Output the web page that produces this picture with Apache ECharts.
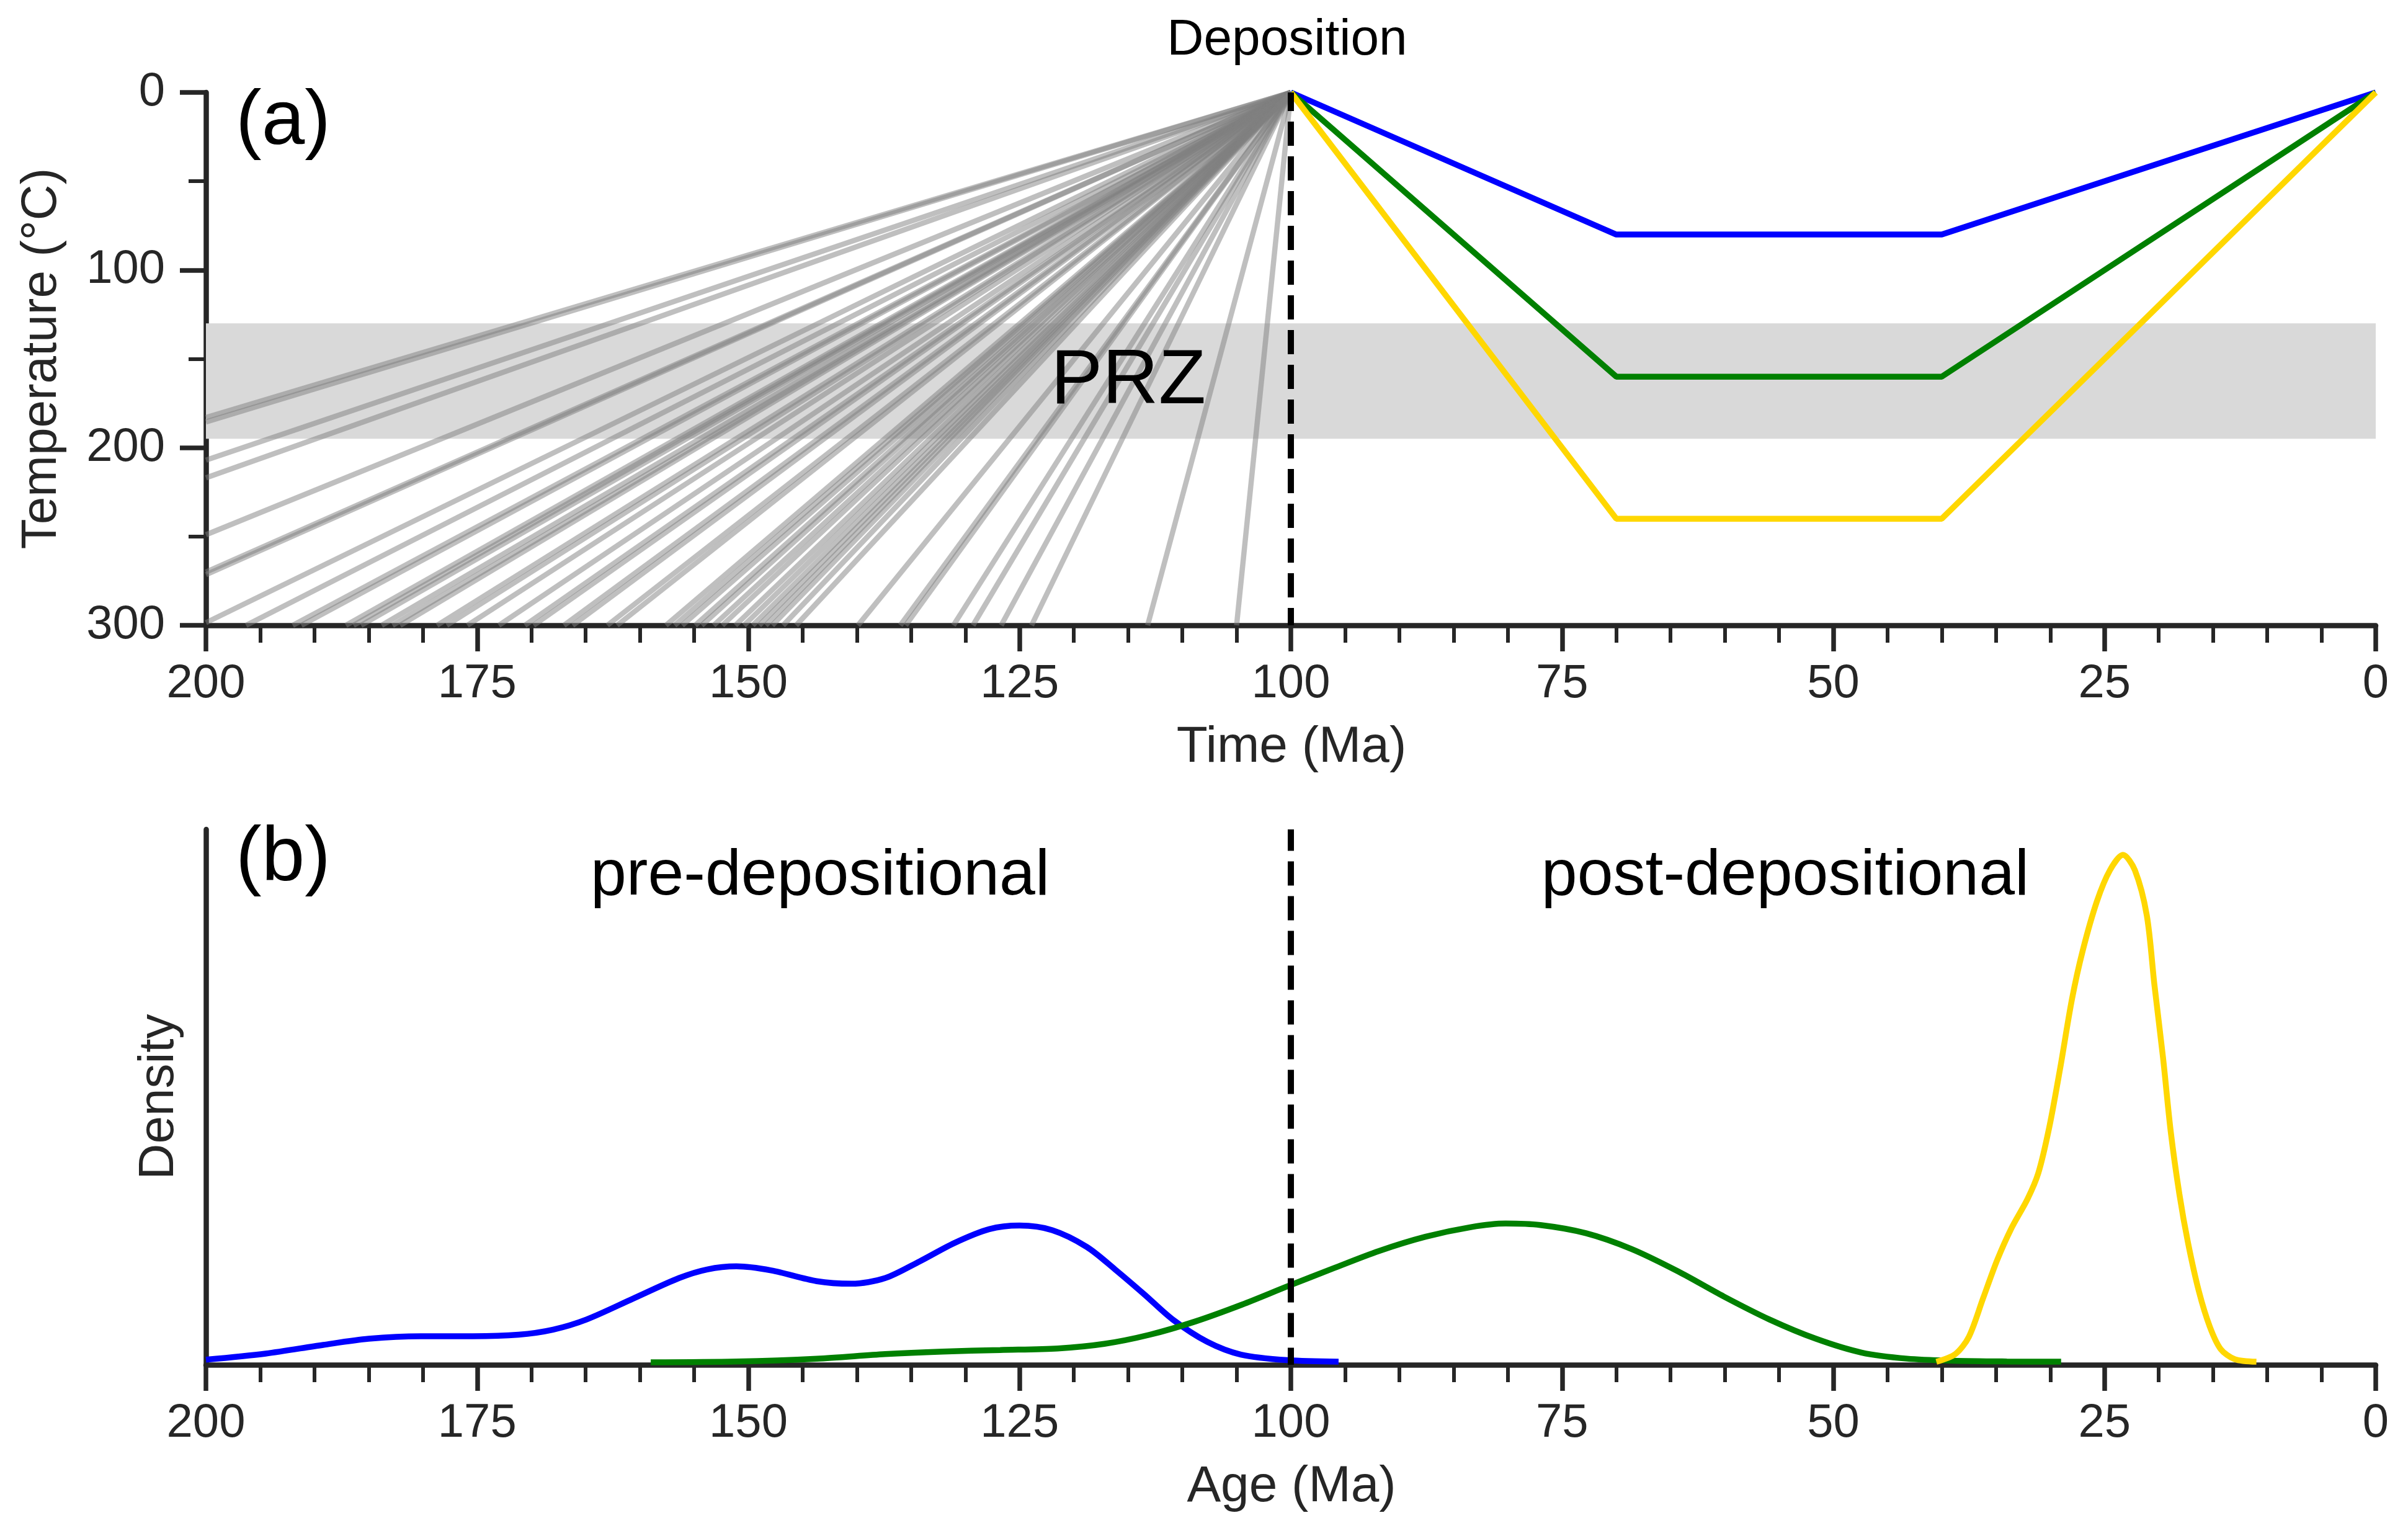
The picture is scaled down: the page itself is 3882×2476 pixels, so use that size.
<!DOCTYPE html>
<html><head><meta charset="utf-8">
<script src="https://cdn.jsdelivr.net/npm/echarts@6/dist/echarts.min.js"></script>
<style>html,body{margin:0;padding:0;background:#fff;}#c{width:3882px;height:2476px;}</style>
</head><body><div id="c"></div>
<script>
// ---------- Panel (a): thermal histories ----------
const depositionAge = 100;
const przRange = [130, 195];
// grey pre-depositional paths: temperature reached at the left edge (200 Ma)
const grayLeftTemps = [183, 185.5, 207, 217, 249, 270, 271.5, 298.5];
// grey pre-depositional paths: age reached at the bottom edge (300 °C)
const grayBottomAges = [196.3, 192.0, 191.2, 187.1, 186.4, 185.7, 183.8, 182.8, 182.1,
  178.7, 177.8, 175.9, 173.0, 170.6, 169.8, 167.0, 166.2, 163.0, 162.1, 157.6, 156.8,
  156.1, 154.9, 154.3, 153.2, 152.4, 151.2, 150.4, 149.6, 149.0, 148.4, 147.8, 146.8,
  145.6, 139.9, 136.0, 135.5, 131.1, 129.3, 126.7, 123.9, 113.2, 105.0];
const pathAges = [100, 70, 40, 0];
const blueTemps = [0, 80, 80, 0];
const greenTemps = [0, 160, 160, 0];
const yellowTemps = [0, 240, 240, 0];

// ---------- Panel (b): age densities ----------
const blueAges = [200, 194.5, 189.2, 185.0, 180.2, 175.4, 171.2, 168.0, 164.9, 160.6, 156.4, 153.8,
  151.1, 147.9, 143.7, 140.5, 137.4, 134.2, 131.0, 127.8, 125.0, 122.0, 118.8, 116.2, 113.5,
  110.9, 107.7, 104.6, 100.3, 95.6];
const blueDens = [0.010, 0.022, 0.039, 0.051, 0.056, 0.056, 0.059, 0.069, 0.089, 0.130, 0.170, 0.187,
  0.193, 0.185, 0.164, 0.159, 0.170, 0.203, 0.239, 0.266, 0.273, 0.264, 0.231, 0.187, 0.138,
  0.089, 0.045, 0.020, 0.009, 0.006];
const greenAges = [159, 151.1, 143.7, 137.4, 132.1, 126.8, 121.5, 117.2, 113.0, 108.8, 104.5, 100.3,
  96.1, 91.9, 87.6, 83.4, 80.2, 77.0, 72.8, 68.6, 64.3, 60.1, 55.9, 51.6, 47.4, 43.2, 38.9, 34, 29];
const greenDens = [0.005, 0.0065, 0.012, 0.021, 0.026, 0.029, 0.032, 0.041, 0.059, 0.085, 0.118, 0.154,
  0.189, 0.223, 0.251, 0.270, 0.277, 0.274, 0.258, 0.227, 0.183, 0.134, 0.089, 0.051, 0.024, 0.012,
  0.008, 0.0065, 0.006];
const yellowAges = [40.5, 38.75, 37.5, 36.2, 34.9, 33.6, 32.1, 31.1, 30.1, 29.1, 28.0, 27.0, 25.7,
  24.5, 23.3, 22.2, 21.1, 20.4, 19.6, 18.9, 18.1, 17.3, 16.3, 15.3, 14.3, 13.0, 11.0];
const yellowDens = [0.006, 0.021, 0.055, 0.130, 0.205, 0.267, 0.325, 0.376, 0.465, 0.580, 0.717, 0.813,
  0.909, 0.970, 1.0, 0.970, 0.881, 0.745, 0.601, 0.458, 0.335, 0.239, 0.144, 0.075, 0.031, 0.011, 0.006];
const densityMax = 1.05;

const FONT = 'Liberation Sans, Arial, sans-serif';
const AX = '#262626';
const zip = (xs, ys) => xs.map((x, i) => [x, ys[i]]);

const grayData = [];
grayLeftTemps.forEach(T => grayData.push({ coords: [[depositionAge, 0], [200, T]] }));
grayBottomAges.forEach(a => grayData.push({ coords: [[depositionAge, 0], [a, 300]] }));

function xAxisCfg(gi) {
  return {
    gridIndex: gi, type: 'value', min: 0, max: 200, interval: 25, inverse: true,
    axisLine: { show: true, onZero: false, lineStyle: { color: AX, width: 8.5 } },
    axisTick: { show: true, length: 42, lineStyle: { color: AX, width: 7.5 } },
    minorTick: { show: true, splitNumber: 5, length: 28, lineStyle: { color: AX, width: 6 } },
    splitLine: { show: false }, minorSplitLine: { show: false },
    axisLabel: { show: true, fontSize: 76, fontFamily: FONT, color: AX, margin: 57, showMinLabel: true, showMaxLabel: true }
  };
}

function txt(text, x, y, size, color, extra, align) {
  const a = align || 'center';
  return Object.assign({
    type: 'text', x: x, y: y, silent: true, z: 100,
    style: { text: text, fontSize: size, fontFamily: FONT, fill: color,
      align: a, verticalAlign: 'middle', textAlign: a, textVerticalAlign: 'middle' }
  }, extra || {});
}

const chart = echarts.init(document.getElementById('c'), null, { renderer: 'canvas' });
chart.setOption({
  animation: false,
  backgroundColor: '#ffffff',
  grid: [
    { left: 332, top: 149, width: 3498, height: 859 },
    { left: 332, top: 1337, width: 3498, height: 863 }
  ],
  xAxis: [xAxisCfg(0), xAxisCfg(1)],
  yAxis: [
    { gridIndex: 0, type: 'value', min: 0, max: 300, interval: 100, inverse: true,
      axisLine: { show: true, onZero: false, lineStyle: { color: AX, width: 8.5 } },
      axisTick: { show: true, length: 42, lineStyle: { color: AX, width: 7.5 } },
      minorTick: { show: true, splitNumber: 2, length: 28, lineStyle: { color: AX, width: 6 } },
      splitLine: { show: false }, minorSplitLine: { show: false },
      axisLabel: { fontSize: 76, fontFamily: FONT, color: AX, margin: 66, showMinLabel: true, showMaxLabel: true } },
    { gridIndex: 1, type: 'value', min: 0, max: densityMax,
      axisLine: { show: true, onZero: false, lineStyle: { color: AX, width: 8.5 } },
      axisTick: { show: false }, axisLabel: { show: false }, splitLine: { show: false } }
  ],
  series: [
    { type: 'line', xAxisIndex: 0, yAxisIndex: 0, data: [], symbol: 'none', z: 1, silent: true,
      markArea: { silent: true, itemStyle: { color: '#d9d9d9', opacity: 1 },
        data: [[{ xAxis: 200, yAxis: przRange[0] }, { xAxis: 0, yAxis: przRange[1] }]] } },
    { type: 'lines', coordinateSystem: 'cartesian2d', xAxisIndex: 0, yAxisIndex: 0, z: 2, silent: true,
      data: grayData, lineStyle: { color: '#808080', width: 8.5, opacity: 0.5, curveness: 0 } },
    { type: 'line', xAxisIndex: 0, yAxisIndex: 0, data: zip(pathAges, blueTemps), symbol: 'none', z: 4,
      lineStyle: { color: '#0000ff', width: 9.5 } },
    { type: 'line', xAxisIndex: 0, yAxisIndex: 0, data: zip(pathAges, greenTemps), symbol: 'none', z: 4,
      lineStyle: { color: '#008000', width: 9.5 } },
    { type: 'line', xAxisIndex: 0, yAxisIndex: 0, data: zip(pathAges, yellowTemps), symbol: 'none', z: 4,
      lineStyle: { color: '#ffd700', width: 9.5 } },
    { type: 'line', xAxisIndex: 0, yAxisIndex: 0, data: [[depositionAge, 0], [depositionAge, 300]], symbol: 'none', z: 6,
      lineStyle: { color: '#000000', width: 10, type: [39, 17], dashOffset: 9 } },
    { type: 'line', xAxisIndex: 1, yAxisIndex: 1, data: zip(blueAges, blueDens), symbol: 'none', z: 4, smooth: 0.3,
      lineStyle: { color: '#0000ff', width: 9.5 } },
    { type: 'line', xAxisIndex: 1, yAxisIndex: 1, data: zip(greenAges, greenDens), symbol: 'none', z: 4, smooth: 0.3,
      lineStyle: { color: '#008000', width: 9.5 } },
    { type: 'line', xAxisIndex: 1, yAxisIndex: 1, data: zip(yellowAges, yellowDens), symbol: 'none', z: 4, smooth: 0.3,
      lineStyle: { color: '#ffd700', width: 9.5 } },
    { type: 'line', xAxisIndex: 1, yAxisIndex: 1, data: [[depositionAge, densityMax], [depositionAge, 0]], symbol: 'none', z: 6,
      lineStyle: { color: '#000000', width: 10, type: [39, 17], dashOffset: 4.5 } }
  ],
  graphic: [
    txt('Deposition', 2075, 65, 82, '#000000'),
    txt('(a)', 380, 198, 125, '#000000', null, 'left'),
    txt('(b)', 380, 1385, 125, '#000000', null, 'left'),
    txt('PRZ', 1819, 616, 125, '#000000'),
    txt('pre-depositional', 1322, 1413, 104, '#000000'),
    txt('post-depositional', 2878, 1413, 104, '#000000'),
    txt('Time (Ma)', 2082, 1205, 82, AX),
    txt('Age (Ma)', 2082, 2397, 82, AX),
    txt('Temperature (°C)', 68, 578, 80, AX, { rotation: Math.PI / 2 }),
    txt('Density', 257, 1768, 80, AX, { rotation: Math.PI / 2 })
  ]
});
</script></body></html>
